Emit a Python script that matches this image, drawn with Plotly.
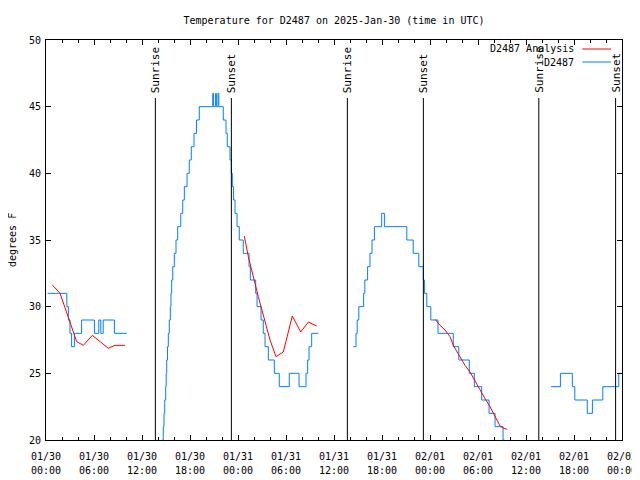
import plotly.graph_objects as go

# ---- data (hours since 2025-01-30 00:00 UTC) ----
obs_hours = [0.2, 2.6, 2.8, 3.0, 3.2, 3.55, 4.45, 6.05, 6.6, 6.85, 7.15, 8.55, 10.1, None,
             14.3, 14.54, 14.66, 14.75, 14.84, 14.96, 15.02, 15.09, 15.19, 15.29, 15.41, 15.54, 15.62,
             15.71, 15.84, 16.04, 16.25, 16.46, 16.84, 17.09, 17.29, 17.63, 17.91, 18.16, 18.5, 18.81,
             19.16, 20.84, 20.95, 21.2, 21.3, 21.5, 21.6, 22.16, 22.5, 22.66, 23.0, 23.16, 23.29, 23.45,
             23.63, 23.88, 24.16, 24.66, 25.38, 25.54, 26.21, 26.38, 26.88, 27.16, 27.38, 27.79, 28.54,
             29.16, 30.41, 31.63, 32.5, 32.71, 32.88, 33.21, 34.04, None,
             38.41, 38.75, 38.9, 39.1, 39.7, 39.85, 40.2, 40.5, 40.75, 41.05, 41.96, 42.3, 45.1, 45.9,
             46.6, 47.16, 47.3, 47.6, 48.1, 49.0, 50.91, 51.6, 52.91, 53.54, 54.46, 55.38, 56.13, 57.13,
             57.3, None,
             63.13, 64.3, 65.79, 66.1, 67.66, 68.3, 69.6, 71.6, 72.0]
obs_temps = [31, 30, 29, 28, 27, 28, 29, 28, 29, 28, 29, 28, 28, None,
             19, 20, 21, 22, 23, 24, 25, 26, 27, 28, 29, 30, 31,
             32, 33, 34, 35, 36, 37, 38, 39, 40, 41, 42, 43, 44,
             45, 46, 45, 46, 45, 46, 45, 44, 43, 42, 41, 40, 39, 38,
             37, 36, 35, 34, 33, 32, 31, 30, 29, 28, 27, 26, 25,
             24, 25, 24, 25, 26, 27, 28, 28, None,
             27, 28, 29, 30, 31, 32, 33, 34, 35, 36, 37, 36, 35, 34,
             33, 32, 31, 30, 29, 28, 27, 26, 25, 24, 23, 22, 21, 20,
             19, None,
             24, 25, 24, 23, 22, 23, 24, 25, 25]

ana_hours = [0.79, 1.75, 2.79, 3.83, 4.67, 5.79, 7.79, 8.63, 9.88, None,
             24.79, 25.29, 26.54, 28.0, 28.75, 29.66, 30.79, 31.84, 32.79, 33.84, None,
             48.63, 49.25, 49.88, 50.5, 50.91, 51.75, 52.38, 53.0, 53.63, 54.25, 54.88, 55.5,
             56.13, 56.75, 57.16, 57.66]
ana_temps = [31.63, 31.0, 29.2, 27.38, 27.1, 27.85, 26.88, 27.1, 27.1, None,
             35.3, 33.75, 30.75, 27.5, 26.25, 26.6, 29.3, 28.1, 28.85, 28.55, None,
             29.05, 28.6, 28.25, 27.75, 27.1, 26.2, 25.6, 25.1, 24.4, 23.75, 23.1, 22.5,
             21.75, 21.05, 20.9, 20.8]

sunrise_hours = [13.67, 37.67, 61.6]
sunset_hours = [23.17, 47.17, 71.2]

tick_hours = [0, 6, 12, 18, 24, 30, 36, 42, 48, 54, 60, 66, 72]
tick_dates = ["01/30"] * 4 + ["01/31"] * 4 + ["02/01"] * 4 + ["02/02"]
tick_times = ["00:00", "06:00", "12:00", "18:00"] * 3 + ["00:00"]
y_ticks = [20, 25, 30, 35, 40, 45, 50]

FONT = "DejaVu Sans Mono"
BLUE = "#0080ff"
RED = "#ff0000"

# page body has an 8px margin: figure origin sits at (8, 8) on the page
OFF = 8
W, H = 640, 480
PL, PR, PT, PB = 46, 622, 40, 440  # desired plot area in page pixels

fig = go.Figure()
fig.add_trace(go.Scatter(x=obs_hours, y=obs_temps, mode="lines", line_shape="hv",
                         line=dict(color=BLUE, width=1), name="D2487", connectgaps=False))
fig.add_trace(go.Scatter(x=ana_hours, y=ana_temps, mode="lines",
                         line=dict(color=RED, width=1), name="D2487 Analysis", connectgaps=False))
# empty trace to carry the second (time-of-day) label row
fig.add_trace(go.Scatter(x=[None], y=[None], xaxis="x2", showlegend=False, hoverinfo="skip"))

line_top = 0.855
label_bottom = 0.8625
for name, hours in (("Sunrise", sunrise_hours), ("Sunset", sunset_hours)):
    for h in hours:
        fig.add_shape(type="line", xref="x", yref="paper", x0=h, x1=h, y0=0, y1=line_top,
                      line=dict(color="black", width=1))
        fig.add_annotation(x=h, y=label_bottom, xref="x", yref="paper", text=name,
                           textangle=-90, showarrow=False, xanchor="center", yanchor="bottom",
                           xshift=1, font=dict(family=FONT, size=11, color="black"))

# gnuplot-style legend (text then sample line)
legend_rows = [("D2487 Analysis", RED, 0.9775), ("D2487", BLUE, 0.9450)]
for text, color, yy in legend_rows:
    fig.add_annotation(x=0.920, y=yy, xref="paper", yref="paper", text=text, showarrow=False,
                       xanchor="right", yanchor="middle", font=dict(family=FONT, size=10, color="black"))
    fig.add_shape(type="line", xref="paper", yref="paper", x0=0.931, x1=0.981, y0=yy, y1=yy,
                  line=dict(color=color, width=1))

# y-axis title
fig.add_annotation(x=(12 - PL) / (PR - PL), y=0.5, xref="paper", yref="paper", text="degrees F",
                   textangle=-90, showarrow=False, xanchor="center", yanchor="middle",
                   font=dict(family=FONT, size=10, color="black"))

fig.update_layout(
    width=W, height=H,
    margin=dict(l=PL - OFF, r=W + OFF - PR, t=PT - OFF, b=H + OFF - PB, autoexpand=False),
    paper_bgcolor="white", plot_bgcolor="white",
    showlegend=False,
    title=dict(text="Temperature for D2487 on 2025-Jan-30 (time in UTC)",
               x=(334 - OFF) / W, xanchor="center", y=1 - (20 - OFF) / H, yanchor="middle",
               font=dict(family=FONT, size=10, color="black")),
    font=dict(family=FONT, size=10, color="black"),
    xaxis=dict(range=[0, 72], tickmode="array", tickvals=tick_hours, ticktext=tick_dates,
               ticks="inside", ticklen=5, tickcolor="black", showline=True, linecolor="black",
               linewidth=1, mirror="ticks", showgrid=False, zeroline=False, automargin=False,
               ticklabelstandoff=7,
               minor=dict(dtick=2, tick0=0, ticks="inside", ticklen=3, tickcolor="black", showgrid=False),
               tickfont=dict(family=FONT, size=10, color="black")),
    xaxis2=dict(range=[0, 72], overlaying="x", anchor="y", side="bottom", tickmode="array",
                tickvals=tick_hours, ticktext=tick_times, ticks="", showline=False, showgrid=False,
                zeroline=False, automargin=False, ticklabelstandoff=23,
                tickfont=dict(family=FONT, size=10, color="black")),
    yaxis=dict(range=[20, 50], tickmode="array", tickvals=y_ticks,
               ticks="inside", ticklen=5, tickcolor="black", showline=True, linecolor="black",
               linewidth=1, mirror="ticks", showgrid=False, zeroline=False, automargin=False,
               ticklabelstandoff=2,
               tickfont=dict(family=FONT, size=10, color="black")),
)

fig.write_html("out.html")
